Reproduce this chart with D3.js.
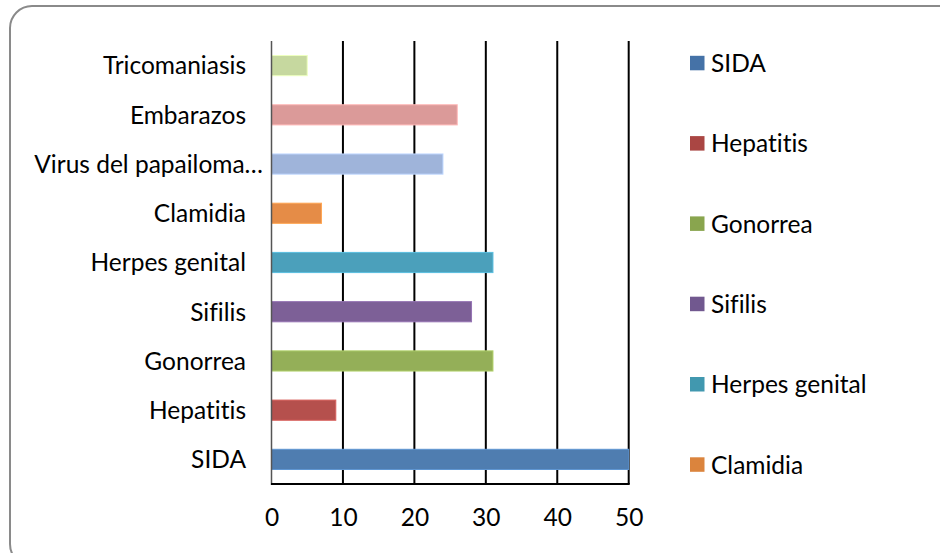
<!DOCTYPE html>
<html>
<head>
<meta charset="utf-8">
<script src="https://cdnjs.cloudflare.com/ajax/libs/d3/7.8.5/d3.min.js"></script>
<style>
html,body{margin:0;padding:0;background:#fff;}
svg{display:block;}
text{font-family:Lato,"Open Sans",sans-serif;fill:#000;font-variant-ligatures:none;font-feature-settings:"liga" 0;}
</style>
</head>
<body>
<svg id="chart" width="940" height="553"></svg>
<script>
// Data (bottom to top order as in the chart)
const categories = ["SIDA","Hepatitis","Gonorrea","Sifilis","Herpes genital","Clamidia","Virus del papailoma…","Embarazos","Tricomaniasis"];
const values = [50, 9, 31, 28, 31, 7, 24, 26, 5];
const barColors = ["#4F7DB0","#B5504D","#94AF58","#7D6097","#4BA0BB","#E58C47","#9FB4DA","#DB9A99","#C6D89F"];
const legendNames = ["SIDA","Hepatitis","Gonorrea","Sifilis","Herpes genital","Clamidia"];
const legendColors = ["#4572A7","#AA4643","#89A54E","#71588F","#4198AF","#DB843D"];
const xTicks = [0,10,20,30,40,50];

const svg = d3.select("#chart");
const FS = 24.5;

// frame
svg.append("rect").attr("x",10).attr("y",6).attr("width",950).attr("height",560)
  .attr("rx",22).attr("ry",22).attr("fill","#fff").attr("stroke","#8a8a8a").attr("stroke-width",2);

const pL = 271.5, pR = 628.7, pT = 41, pB = 484;
const x = d3.scaleLinear().domain([0,50]).range([pL,pR]);
const y = d3.scaleBand().domain(categories.slice().reverse()).range([pT,pB])
  .paddingInner(0.59).paddingOuter(0.295);

// gridlines
svg.append("g").selectAll("line").data(xTicks.slice(1)).join("line")
  .attr("x1",d=>x(d)).attr("x2",d=>x(d)).attr("y1",pT).attr("y2",pB)
  .attr("stroke","#000").attr("stroke-width",2);

// bars
svg.append("g").selectAll("rect").data(categories).join("rect")
  .attr("x",x(0)).attr("y",d=>y(d)).attr("height",y.bandwidth())
  .attr("width",(d,i)=>x(values[i])-x(0))
  .attr("fill",(d,i)=>barColors[i])
  .attr("stroke",(d,i)=>d3.color(barColors[i]).brighter(0.5))
  .attr("stroke-width",1);

// axes lines
svg.append("line").attr("x1",pL).attr("x2",pL).attr("y1",pT).attr("y2",pB+1)
  .attr("stroke","#555").attr("stroke-width",1.5);
svg.append("line").attr("x1",pL-0.5).attr("x2",pR+1).attr("y1",pB).attr("y2",pB)
  .attr("stroke","#000").attr("stroke-width",2);

// x tick labels
const xAxis = d3.axisBottom(x).tickValues(xTicks).tickSize(0).tickPadding(0).tickFormat(d3.format("d"));
const gx = svg.append("g").attr("transform",`translate(0,${pB})`).call(xAxis);
gx.select(".domain").remove();
gx.selectAll("text").attr("font-size",FS).attr("dy",null).attr("y",41.5)
  .style("font-family","Lato,'Open Sans',sans-serif").attr("fill","#000");

// y labels
const yAxis = d3.axisLeft(y).tickSize(0).tickPadding(0);
const gy = svg.append("g").attr("transform",`translate(${246},0)`).call(yAxis);
gy.select(".domain").remove();
gy.selectAll("text").attr("font-size",FS).attr("dy","0.36em")
  .attr("dx",d=>d.endsWith("…")?17:0)
  .style("font-family","Lato,'Open Sans',sans-serif").attr("fill","#000");

// legend
const lg = svg.append("g");
legendNames.forEach((n,i)=>{
  const cy = 63.3 + i*80.3;
  lg.append("rect").attr("x",690).attr("y",cy-7.5).attr("width",14.5).attr("height",14.5).attr("fill",legendColors[i]);
  lg.append("text").attr("x",711).attr("y",cy).attr("dy","0.36em").attr("font-size",FS).text(n);
});
</script>
</body>
</html>
